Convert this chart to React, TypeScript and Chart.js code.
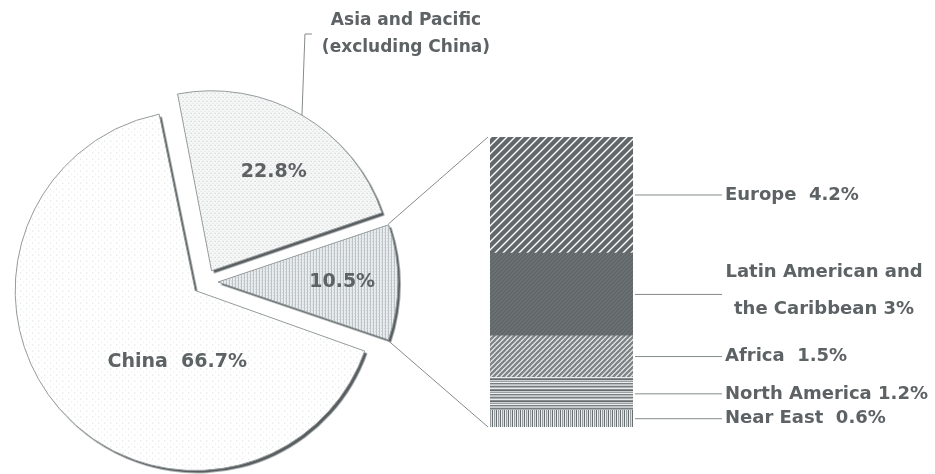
import React, { useEffect, useRef } from 'react';
import { Chart, registerables } from 'chart.js';

Chart.register(...registerables);

const W = 935;
const H = 474;

// ---- data ----
const pieCategories = ['China', 'Asia and Pacific (excluding China)', 'Other regions'];
const pieValues = [66.7, 22.8, 10.5];
const asiaTitle = ['Asia and Pacific', '(excluding China)'];

// breakdown of the 10.5% slice, top of the bar first
const regionNames = ['Europe', 'Latin American and\nthe Caribbean', 'Africa', 'North America', 'Near East'];
const regionValues = [4.2, 3, 1.5, 1.2, 0.6];
const regionSeparators = ['  ', ' ', '  ', ' ', '  '];

// ---- styles ----
const TEXT = '#5d6264';
const LINE = '#858a8c';
const FONT = '"DejaVu Sans", "Liberation Sans", Arial, sans-serif';

function makePattern(w: number, h: number, draw: (g: CanvasRenderingContext2D, w: number, h: number) => void) {
  const c = document.createElement('canvas');
  c.width = w;
  c.height = h;
  const g = c.getContext('2d') as CanvasRenderingContext2D;
  draw(g, w, h);
  return g.createPattern(c, 'repeat') as CanvasPattern;
}

function diagonal(s: number, bg: string, fg: string, lw: number) {
  return makePattern(s, s, (g) => {
    g.fillStyle = bg;
    g.fillRect(0, 0, s, s);
    g.strokeStyle = fg;
    g.lineWidth = lw;
    for (let k = -2; k <= 2; k++) {
      g.beginPath();
      g.moveTo(k * s - s, 2 * s);
      g.lineTo(k * s + 2 * s, -s);
      g.stroke();
    }
  });
}

function stripes(colors: string[], vertical: boolean) {
  const n = colors.length;
  return makePattern(vertical ? n : 1, vertical ? 1 : n, (g) => {
    colors.forEach((c, i) => {
      g.fillStyle = c;
      if (vertical) g.fillRect(i, 0, 1, 1);
      else g.fillRect(0, i, 1, 1);
    });
  });
}

function slicePatterns() {
  const china = makePattern(6, 6, (g) => {
    g.fillStyle = '#ffffff';
    g.fillRect(0, 0, 6, 6);
    g.fillStyle = '#d4d6d7';
    g.fillRect(0, 0, 1, 1);
    g.fillStyle = '#e6e7e8';
    g.fillRect(3, 3, 1, 1);
  });
  const asia = makePattern(4, 4, (g) => {
    g.fillStyle = '#f6f7f7';
    g.fillRect(0, 0, 4, 4);
    g.fillStyle = '#bfc3c4';
    g.fillRect(0, 0, 1, 1);
    g.fillStyle = '#d8dadb';
    g.fillRect(2, 2, 1, 1);
  });
  const other = makePattern(3, 3, (g) => {
    g.fillStyle = '#e8ecee';
    g.fillRect(0, 0, 3, 3);
    g.fillStyle = '#bcc4c8';
    g.fillRect(0, 0, 1, 3);
    g.fillStyle = '#d2d8db';
    g.fillRect(2, 1, 1, 1);
  });
  return [china, asia, other];
}

function regionPatterns() {
  return [
    diagonal(8, '#ffffff', '#62686a', 4.3),
    diagonal(4, '#6e7476', '#5f6567', 1.4),
    diagonal(5, '#f2f4f4', '#7e8486', 2.4),
    stripes(['#c8cccd', '#777c7e', '#aab0b2', '#e8eaeb', '#888e90', '#666b6d', '#cdd1d2', '#9aa0a2', '#eef0f0', '#787e80', '#bcc1c2'], false),
    stripes(['#686e70', '#f0f2f2', '#9aa0a2', '#dde0e1'], true),
  ];
}

// geometry of a drawn (offset) pie slice
function sliceGeom(el: any) {
  const { x, y, startAngle, endAngle, outerRadius } = el;
  const o = (el.options.offset || 0) / 4;
  const mid = (startAngle + endAngle) / 2;
  const circ = endAngle - startAngle;
  const vx = x + Math.cos(mid) * o;
  const vy = y + Math.sin(mid) * o;
  const r = outerRadius + o * (1 - Math.sin(Math.min(Math.PI, circ)));
  return { vx, vy, r, startAngle, endAngle, mid };
}

export default function App() {
  const pieRef = useRef<HTMLCanvasElement>(null);
  const barRef = useRef<HTMLCanvasElement>(null);

  useEffect(() => {
    const pieCanvas = pieRef.current as HTMLCanvasElement;
    const barCanvas = barRef.current as HTMLCanvasElement;

    // keep every slice the same visible radius although they are exploded
    const equalRadius = {
      id: 'equalRadius',
      afterDatasetUpdate(chart: any, args: any) {
        const meta = args.meta;
        const R = meta.controller.outerRadius;
        meta.data.forEach((el: any) => {
          const o = (el.options.offset || 0) / 4;
          const circ = el.endAngle - el.startAngle;
          el.outerRadius = R - o * (1 - Math.sin(Math.min(Math.PI, circ)));
        });
      },
    };

    // dark drop shadow under the slice fills, then thin outlines on top
    const shadow = {
      id: 'sliceShadow',
      beforeDatasetsDraw(chart: any) {
        const ctx = chart.ctx;
        ctx.save();
        ctx.shadowColor = 'rgba(80,86,88,0.95)';
        ctx.shadowOffsetX = 2.5;
        ctx.shadowOffsetY = 2.5;
        ctx.shadowBlur = 0;
      },
      afterDatasetsDraw(chart: any) {
        const ctx = chart.ctx;
        ctx.restore();
        chart.getDatasetMeta(0).data.forEach((el: any) => {
          const saved = el.options;
          el.options = { ...saved, backgroundColor: 'rgba(0,0,0,0)', borderWidth: 1, borderColor: '#959a9c', borderAlign: 'center', borderJoinStyle: 'miter' };
          el.draw(ctx);
          el.options = saved;
        });
      },
    };

    // label placement: [angle shift from slice middle (deg), distance as share of radius]
    const labelPlace = [
      [-35, 0.41],
      [2, 0.65],
      [0, 0.69],
    ];

    const pieLabels = {
      id: 'pieLabels',
      afterDraw(chart: any) {
        const ctx = chart.ctx;
        const arcs = chart.getDatasetMeta(0).data;
        ctx.save();
        ctx.fillStyle = TEXT;
        ctx.textAlign = 'center';
        ctx.textBaseline = 'middle';
        ctx.font = `bold 19px ${FONT}`;
        arcs.forEach((el: any, i: number) => {
          const g = sliceGeom(el);
          const a = g.mid + (labelPlace[i][0] * Math.PI) / 180;
          const d = labelPlace[i][1] * g.r;
          const lx = g.vx + Math.cos(a) * d;
          const ly = g.vy + Math.sin(a) * d;
          const v = pieValues[i].toFixed(1) + '%';
          ctx.fillText(i === 0 ? `${pieCategories[0]}  ${v}` : v, lx, ly);
        });
        // title for Asia and Pacific with its leader line
        const g = sliceGeom(arcs[1]);
        const px = g.vx + Math.cos(g.mid) * g.r;
        const py = g.vy + Math.sin(g.mid) * g.r;
        ctx.strokeStyle = LINE;
        ctx.lineWidth = 1;
        ctx.beginPath();
        ctx.moveTo(px, py);
        ctx.lineTo(px + 3, 34);
        ctx.lineTo(px + 10, 34);
        ctx.stroke();
        ctx.font = `bold 17px ${FONT}`;
        ctx.fillText(asiaTitle[0], px + 104, 21);
        ctx.fillText(asiaTitle[1], px + 104, 48);
        ctx.restore();
      },
    };

    const pie = new Chart(pieCanvas, {
      type: 'pie',
      data: {
        labels: pieCategories,
        datasets: [
          {
            data: pieValues,
            backgroundColor: slicePatterns(),
            borderWidth: 0,
            offset: 52,
          },
        ],
      },
      options: {
        responsive: false,
        animation: false,
        rotation: 109,
        radius: 180,
        layout: { padding: { left: 0, right: W - 410, top: 90, bottom: 0 } },
        plugins: { legend: { display: false }, tooltip: { enabled: false } },
      },
      plugins: [equalRadius, shadow, pieLabels],
    } as any);

    const stackOrder = regionNames.map((_, i) => regionNames.length - 1 - i); // bottom first
    const patterns = regionPatterns();

    const barDecor = {
      id: 'barDecor',
      afterDraw(chart: any) {
        const ctx = chart.ctx;
        const n = stackOrder.length;
        const topEl = chart.getDatasetMeta(n - 1).data[0];
        const botEl = chart.getDatasetMeta(0).data[0];
        const left = topEl.x - topEl.width / 2;
        const right = topEl.x + topEl.width / 2;
        const top = topEl.y;
        const bottom = botEl.base;

        ctx.save();
        ctx.strokeStyle = LINE;
        ctx.lineWidth = 1;
        // connectors from the small slice to the bar
        const other = sliceGeom(pie.getDatasetMeta(0).data[2]);
        const sx = other.vx + Math.cos(other.startAngle) * other.r;
        const sy = other.vy + Math.sin(other.startAngle) * other.r;
        const ex = other.vx + Math.cos(other.endAngle) * other.r;
        const ey = other.vy + Math.sin(other.endAngle) * other.r;
        ctx.beginPath();
        ctx.moveTo(sx, sy);
        ctx.lineTo(left - 2, top);
        ctx.moveTo(ex, ey);
        ctx.lineTo(left - 2, bottom);
        ctx.stroke();

        // leader lines and labels
        ctx.fillStyle = TEXT;
        ctx.textBaseline = 'middle';
        ctx.font = `bold 18px ${FONT}`;
        for (let d = 0; d < n; d++) {
          const idx = stackOrder[d];
          const el = chart.getDatasetMeta(d).data[0];
          const cy = (el.y + el.base) / 2;
          ctx.beginPath();
          ctx.moveTo(right + 2, cy);
          ctx.lineTo(right + 89, cy);
          ctx.stroke();
          const parts = regionNames[idx].split('\n');
          const v = `${regionValues[idx]}%`;
          if (parts.length > 1) {
            ctx.textAlign = 'center';
            ctx.fillText(parts[0], right + 191, cy - 22);
            ctx.fillText(`${parts[1]}${regionSeparators[idx]}${v}`, right + 191, cy + 15);
          } else {
            ctx.textAlign = 'left';
            ctx.fillText(`${parts[0]}${regionSeparators[idx]}${v}`, right + 92, cy);
          }
        }
        ctx.restore();
      },
    };

    const bar = new Chart(barCanvas, {
      type: 'bar',
      data: {
        labels: ['Other regions'],
        datasets: stackOrder.map((idx) => ({
          label: regionNames[idx],
          data: [regionValues[idx]],
          backgroundColor: patterns[idx],
          borderWidth: 0,
          barPercentage: 1,
          categoryPercentage: 1,
        })),
      },
      options: {
        responsive: false,
        animation: false,
        layout: { padding: { left: 490, right: W - 633, top: 137, bottom: H - 427 } },
        scales: {
          x: { display: false, stacked: true },
          y: { display: false, stacked: true, min: 0, max: pieValues[2] },
        },
        plugins: { legend: { display: false }, tooltip: { enabled: false } },
      },
      plugins: [barDecor],
    } as any);

    return () => {
      bar.destroy();
      pie.destroy();
    };
  }, []);

  return (
    <div style={{ position: 'fixed', left: 0, top: 0, width: W, height: H, background: '#ffffff', overflow: 'hidden' }}>
      <canvas ref={pieRef} width={W} height={H} style={{ position: 'absolute', left: 0, top: 0 }} />
      <canvas ref={barRef} width={W} height={H} style={{ position: 'absolute', left: 0, top: 0 }} />
    </div>
  );
}
